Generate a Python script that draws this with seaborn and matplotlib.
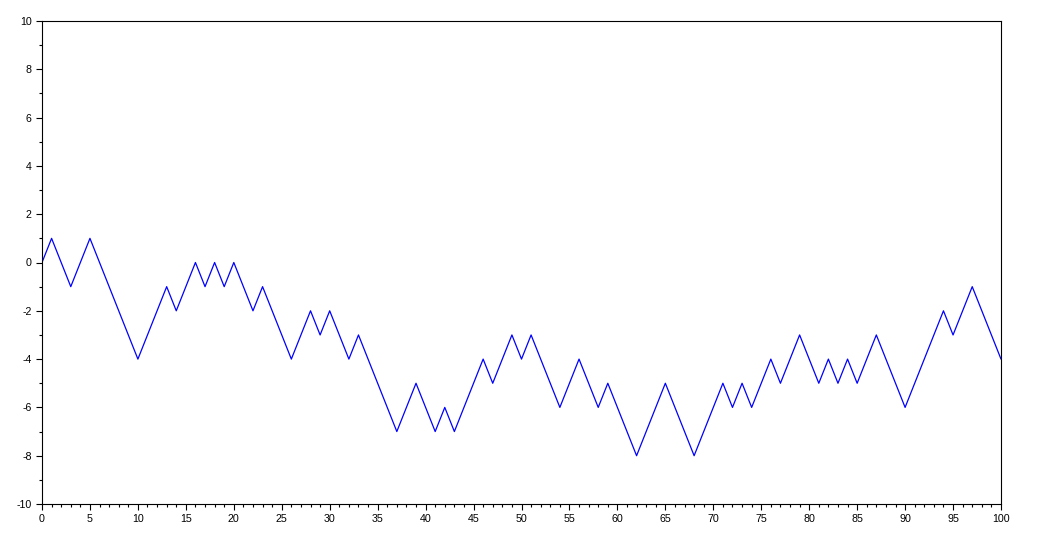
import numpy as np
import pandas as pd
import seaborn as sns
import matplotlib.pyplot as plt
from matplotlib.ticker import MultipleLocator

# Random walk values, one per step 0..100
steps = list(range(101))
walk = [
    0, 1, 0, -1, 0, 1, 0, -1, -2, -3,
    -4, -3, -2, -1, -2, -1, 0, -1, 0, -1,
    0, -1, -2, -1, -2, -3, -4, -3, -2, -3,
    -2, -3, -4, -3, -4, -5, -6, -7, -6, -5,
    -6, -7, -6, -7, -6, -5, -4, -5, -4, -3,
    -4, -3, -4, -5, -6, -5, -4, -5, -6, -5,
    -6, -7, -8, -7, -6, -5, -6, -7, -8, -7,
    -6, -5, -6, -5, -6, -5, -4, -5, -4, -3,
    -4, -5, -4, -5, -4, -5, -4, -3, -4, -5,
    -6, -5, -4, -3, -2, -3, -2, -1, -2, -3,
    -4,
]
x_ticks = list(range(0, 101, 5))
y_ticks = list(range(-10, 11, 2))

df = pd.DataFrame({"step": steps, "value": walk})

sns.set_style("white")
plt.rcParams["font.family"] = ["Liberation Sans", "DejaVu Sans"]
plt.rcParams["axes.unicode_minus"] = False

fig = plt.figure(figsize=(10.57, 5.34), dpi=100)
ax = fig.add_axes([42 / 1057, 1 - 504 / 534, (1001 - 42) / 1057, (504 - 21) / 534])

sns.lineplot(data=df, x="step", y="value", color="#0000ff", linewidth=0.9, ax=ax)

ax.set_xlim(0, 100)
ax.set_ylim(-10, 10)
ax.set_xticks(x_ticks)
ax.set_yticks(y_ticks)
ax.xaxis.set_minor_locator(MultipleLocator(1))
ax.yaxis.set_minor_locator(MultipleLocator(1))
ax.set_xlabel("")
ax.set_ylabel("")

ax.tick_params(which="major", direction="out", length=4.3, width=0.8, color="black",
               labelcolor="black", labelsize=7.7, pad=3, bottom=True, left=True,
               top=False, right=False)
ax.tick_params(which="minor", direction="out", length=2.2, width=0.8, color="black",
               bottom=True, left=True, top=False, right=False)

for side in ["left", "bottom", "top", "right"]:
    ax.spines[side].set_visible(True)
    ax.spines[side].set_color("black")
    ax.spines[side].set_linewidth(0.8)

fig.savefig("out.png", dpi=100)
